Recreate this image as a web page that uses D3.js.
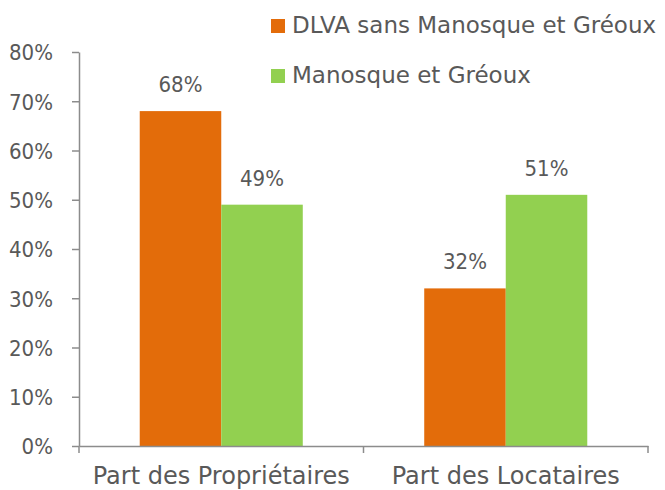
<!DOCTYPE html>
<html>
<head>
<meta charset="utf-8">
<script src="https://cdn.jsdelivr.net/npm/d3@7"></script>
<style>
  html, body { margin: 0; padding: 0; background: #fff; }
  svg { display: block; font-family: "DejaVu Sans", sans-serif; }
</style>
</head>
<body>
<svg id="chart" width="665" height="490"></svg>
<script>
const categories = ["Part des Propriétaires", "Part des Locataires"];
const seriesNames = ["DLVA sans Manosque et Gréoux", "Manosque et Gréoux"];
const dlvaValues = [68, 32];
const manosqueValues = [49, 51];
const yTicks = [0, 10, 20, 30, 40, 50, 60, 70, 80];
const colors = ["#E36C0A", "#92D050"];

const svg = d3.select("#chart");
const margin = { left: 79, right: 17, top: 52, bottom: 44 };
const width = 665, height = 490;
const textColor = "#595959";
const axisColor = "#8c8c8c";
const condensed = "'DejaVu Sans Condensed', 'DejaVu Sans', sans-serif";

const x = d3.scaleBand()
  .domain(categories)
  .range([margin.left, width - margin.right])
  .paddingInner(0)
  .paddingOuter(0);

const xSeries = d3.scaleBand()
  .domain(seriesNames)
  .range([0, x.bandwidth()])
  .paddingInner(0)
  .paddingOuter(0.745);

const y = d3.scaleLinear()
  .domain([0, 80])
  .range([height - margin.bottom, margin.top]);

const rows = categories.map((c, i) => ({
  category: c,
  values: [
    { name: seriesNames[0], value: dlvaValues[i], color: colors[0] },
    { name: seriesNames[1], value: manosqueValues[i], color: colors[1] }
  ]
}));

// bars
const groups = svg.append("g")
  .selectAll("g")
  .data(rows)
  .join("g")
  .attr("transform", (d) => `translate(${x(d.category)},0)`);

groups.selectAll("rect")
  .data((d) => d.values)
  .join("rect")
  .attr("x", (d) => xSeries(d.name))
  .attr("width", xSeries.bandwidth())
  .attr("y", (d) => y(d.value))
  .attr("height", (d) => y(0) - y(d.value))
  .attr("fill", (d) => d.color);

groups.selectAll("text")
  .data((d) => d.values)
  .join("text")
  .attr("x", (d) => xSeries(d.name) + xSeries.bandwidth() / 2)
  .attr("y", (d) => y(d.value) - 19)
  .attr("text-anchor", "middle")
  .attr("fill", textColor)
  .attr("font-size", 22)
  .attr("font-family", condensed)
  .text((d) => `${d.value}%`);

// y axis
const yAxis = svg.append("g")
  .attr("transform", `translate(${margin.left},0)`)
  .call(d3.axisLeft(y).tickValues(yTicks).tickFormat((d) => `${d}%`).tickSize(7).tickSizeOuter(0));
yAxis.select(".domain").attr("stroke", axisColor).attr("stroke-width", 1.5);
yAxis.selectAll(".tick line").attr("stroke", axisColor).attr("stroke-width", 1.5);
yAxis.selectAll(".tick text")
  .attr("fill", textColor)
  .attr("font-size", 22)
  .attr("font-family", condensed)
  .attr("x", -26)
  .attr("dy", "0.36em");

// x axis
const xAxis = svg.append("g")
  .attr("transform", `translate(0,${y(0)})`)
  .call(d3.axisBottom(x).tickSize(0).tickSizeOuter(0));
xAxis.select(".domain").attr("stroke", axisColor).attr("stroke-width", 1.5);
xAxis.selectAll(".tick text")
  .attr("fill", textColor)
  .attr("font-size", 24)
  .attr("font-family", "DejaVu Sans, sans-serif")
  .attr("y", 21)
  .attr("dy", "0.71em");

// category boundary ticks
const boundaries = [x.range()[0], ...categories.slice(1).map((c) => x(c)), x.range()[1]];
xAxis.append("g")
  .selectAll("line")
  .data(boundaries)
  .join("line")
  .attr("x1", (d) => d)
  .attr("x2", (d) => d)
  .attr("y1", 0)
  .attr("y2", 7)
  .attr("stroke", axisColor)
  .attr("stroke-width", 1.5);

// legend
const legend = svg.append("g")
  .selectAll("g")
  .data(seriesNames)
  .join("g")
  .attr("transform", (d, i) => `translate(271,${19 + i * 50})`);

legend.append("rect")
  .attr("width", 14)
  .attr("height", 14)
  .attr("fill", (d, i) => colors[i]);

legend.append("text")
  .attr("x", 21)
  .attr("y", 14)
  .attr("fill", textColor)
  .attr("font-size", 23)
  .text((d) => d);
</script>
</body>
</html>
